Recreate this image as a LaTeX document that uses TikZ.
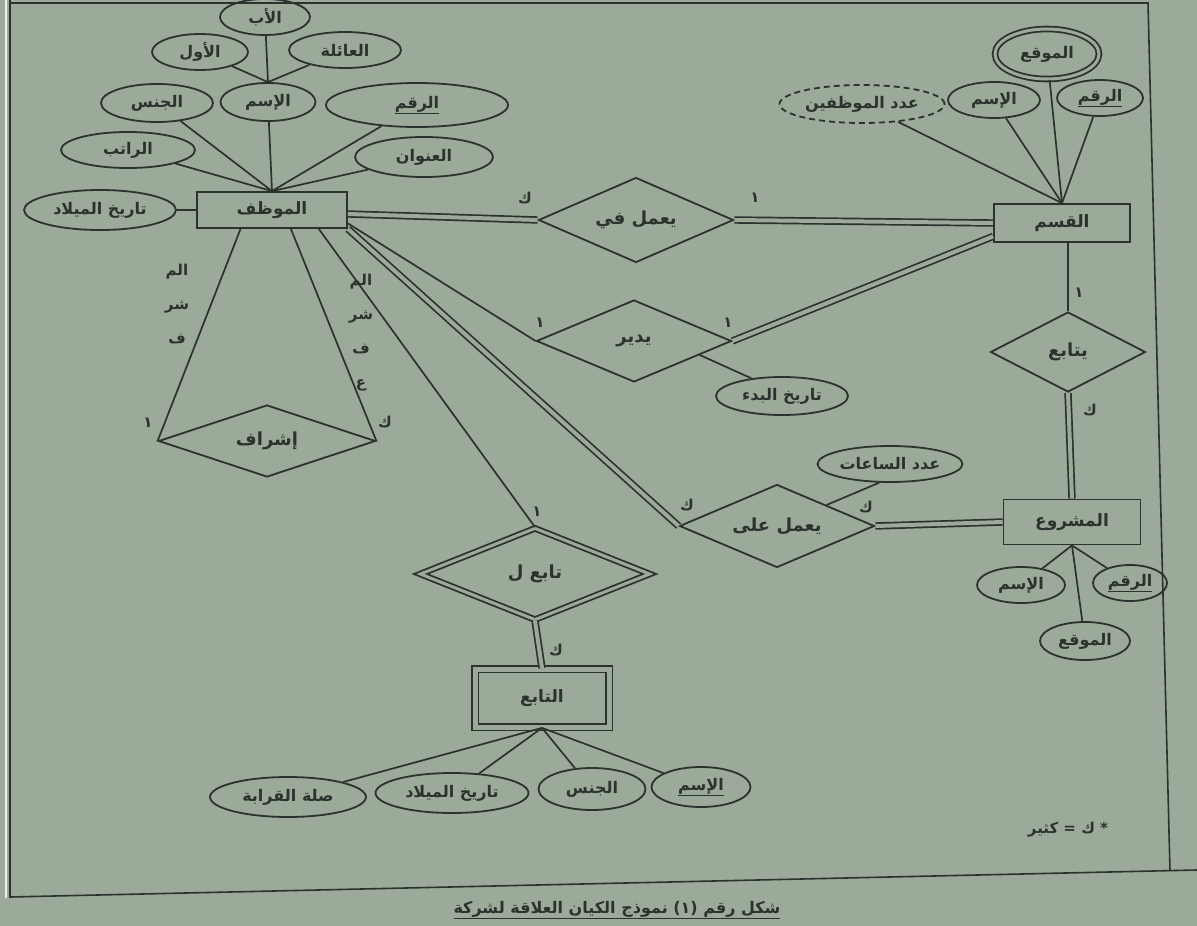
\documentclass[tikz,border=0pt]{standalone}
\usepackage{fontspec}
\usetikzlibrary{shapes.geometric}
\TeXXeTstate=1
\newfontfamily\arabicfont[Script=Arabic]{DejaVu Sans}
\definecolor{paper}{RGB}{156,170,154}
\definecolor{ink}{RGB}{44,50,44}
\newcommand{\ar}[1]{{\arabicfont\beginR #1\endR}}
\newcommand{\attrfont}{\fontsize{16}{18}\selectfont\bfseries}
\newcommand{\entfont}{\fontsize{17}{19}\selectfont\bfseries}
\newcommand{\relfont}{\fontsize{18}{20}\selectfont\bfseries}
\newcommand{\cardfont}{\fontsize{15}{34}\selectfont\bfseries}

\tikzset{
  sz/.style 2 args={minimum width=#1pt, minimum height=#2pt},
  attr/.style={ellipse, draw=ink, line width=1.8pt, inner sep=0pt, text=ink, font=\attrfont},
  entity/.style={rectangle, draw=ink, line width=1.8pt, inner sep=0pt, text=ink, font=\entfont},
  rel/.style={diamond, aspect=2.4, draw=ink, line width=1.8pt, inner sep=0pt, text=ink, font=\relfont},
  link/.style={draw=ink, line width=1.7pt},
  twolink/.style={draw=ink, line width=1.7pt, double=paper, double distance=4pt},
  card/.style={text=ink, inner sep=1pt, font=\cardfont},
}

\begin{document}
\begin{tikzpicture}[x=1pt, y=-1pt]
    % Paper and frame
    \fill[paper] (0,0) rectangle (1197,926);
    \useasboundingbox (0,0) rectangle (1197,926);
    \draw[white!80!paper, line width=2pt] (6,0) -- (6,898);
    \draw[ink, line width=1.6pt] (10,3) -- (1148,3) -- (1170,871);
    \draw[ink, line width=1.6pt] (10,0) -- (10,897) -- (1197,870);

    % Employee and its attributes
    \node[entity, sz={150}{36}] (emp) at (272,210) {\ar{الموظف}};
    \node[attr, sz={90}{36}] (fath) at (265,17) {\ar{الأب}};
    \node[attr, sz={96}{36}] (first) at (200,52) {\ar{الأول}};
    \node[attr, sz={112}{36}] (fam) at (345,50) {\ar{العائلة}};
    \node[attr, sz={112}{38}] (sex) at (157,103) {\ar{الجنس}};
    \node[attr, sz={95}{38}] (name) at (268,102) {\ar{الإسم}};
    \node[attr, sz={182}{44}] (ssn) at (417,105) {\ar{\underline{الرقم}}};
    \node[attr, sz={134}{36}] (sal) at (128,150) {\ar{الراتب}};
    \node[attr, sz={138}{40}] (addr) at (424,157) {\ar{العنوان}};
    \node[attr, sz={152}{40}] (bdate) at (100,210) {\ar{تاريخ الميلاد}};
    \foreach \a in {fath,first,fam}
      \draw[link] (name.north) -- (\a);
    \foreach \a in {sex,name,ssn,sal,addr}
      \draw[link] (emp.north) -- (\a);
    \draw[link] (bdate) -- (emp.west);

    % Department and its attributes
    \node[entity, sz={136}{38}] (dept) at (1062,223) {\ar{القسم}};
    \node[attr, sz={104}{50}, double=paper, double distance=3pt] (dloc) at (1047,54) {\ar{الموقع}};
    \node[attr, sz={92}{36}] (dname) at (994,100) {\ar{الإسم}};
    \node[attr, sz={86}{36}] (dnum) at (1100,98) {\ar{\underline{الرقم}}};
    \node[attr, sz={165}{38}, dash pattern=on 6pt off 4pt] (nemp) at (862,104) {\ar{عدد الموظفين}};
    \foreach \a in {dloc,dname,dnum,nemp}
      \draw[link] (dept.north) -- (\a);

    % Project and its attributes
    \node[entity, sz={137}{45}] (proj) at (1072,522) {\ar{المشروع}};
    \node[attr, sz={88}{36}] (pname) at (1021,585) {\ar{الإسم}};
    \node[attr, sz={74}{36}] (pnum) at (1130,583) {\ar{\underline{الرقم}}};
    \node[attr, sz={90}{38}] (ploc) at (1085,641) {\ar{الموقع}};
    \foreach \a in {pname,pnum,ploc}
      \draw[link] (proj.south) -- (\a);

    % Relationships
    \node[rel, sz={195}{85}] (wf) at (636,220) {\ar{يعمل في}};
    \node[rel, sz={195}{82}] (mg) at (634,341) {\ar{يدير}};
    \node[attr, sz={132}{38}] (sd) at (782,396) {\ar{تاريخ البدء}};
    \node[rel, sz={155}{80}] (ctrl) at (1068,352) {\ar{يتابع}};
    \node[rel, sz={195}{83}] (wo) at (777,526) {\ar{يعمل على}};
    \node[attr, sz={145}{36}] (hrs) at (890,464) {\ar{عدد الساعات}};
    \node[rel, sz={217}{72}] (sup) at (267,441) {\ar{إشراف}};
    \node[rel, sz={230}{92}, double=paper, double distance=3pt] (depof) at (535,574) {\ar{تابع ل}};

    % Dependent and its attributes
    \node[entity, sz={134}{58}, double=paper, double distance=5pt] (dpnd) at (542,698) {\ar{التابع}};
    \node[attr, sz={156}{40}] (kin) at (288,797) {\ar{صلة القرابة}};
    \node[attr, sz={153}{40}] (dbd) at (452,793) {\ar{تاريخ الميلاد}};
    \node[attr, sz={107}{42}] (dsex) at (592,789) {\ar{الجنس}};
    \node[attr, sz={99}{40}] (dnm) at (701,787) {\ar{\underline{الإسم}}};
    \foreach \a in {kin,dbd,dsex,dnm}
      \draw[link] (dpnd.south) -- (\a);

    % Connectors
    \draw[twolink] (emp.-3) -- (wf.west);
    \draw[twolink] (wf.east) -- (dept.west);
    \draw[link] (emp.-10) -- (mg.west);
    \draw[twolink] (mg.east) -- (dept.-169);
    \draw[link] (mg.-12) -- (sd.150);
    \draw[link] (dept.south -| ctrl.north) -- (ctrl.north);
    \draw[twolink] (ctrl.south) -- (proj.north);
    \draw[twolink] (emp.south east) -- (wo.west);
    \draw[twolink] (wo.east) -- (proj.west);
    \draw[link] (wo.23) -- (hrs.-120);
    \draw[link] (emp.-22) -- (depof.north);
    \draw[twolink] (depof.south) -- (dpnd.north);
    \draw[link] (emp.-149) -- (sup.west);
    \draw[link] (emp.-45) -- (sup.east);

    % Cardinalities
    \node[card] (c1) at (525,198) {\ar{ك}};
    \node[card] (c2) at (755,198) {\ar{١}};
    \node[card] (c3) at (540,323) {\ar{١}};
    \node[card] (c4) at (728,323) {\ar{١}};
    \node[card] (c5) at (1079,293) {\ar{١}};
    \node[card] (c6) at (1090,410) {\ar{ك}};
    \node[card] (c7) at (687,505) {\ar{ك}};
    \node[card] (c8) at (866,507) {\ar{ك}};
    \node[card] (c9) at (537,512) {\ar{١}};
    \node[card] (c10) at (556,650) {\ar{ك}};
    \node[card] (c11) at (148,423) {\ar{١}};
    \node[card] (c12) at (385,422) {\ar{ك}};

    % Role names of the supervision
    \node[card, align=center] (roleA) at (177,304) {\ar{الم}\\\ar{شر}\\\ar{ف}};
    \node[card, align=center] (roleB) at (361,333) {\ar{الم}\\\ar{شر}\\\ar{ف}\\\ar{ع}};

    % Note and caption
    \node[card] (note) at (1068,830) {\ar{* ك = كثير}};
    \node[card, font=\fontsize{16}{18}\selectfont\bfseries] (cap) at (617,910) {\underline{\ar{شكل رقم (١) نموذج الكيان العلاقة لشركة}}};
\end{tikzpicture}
\end{document}
